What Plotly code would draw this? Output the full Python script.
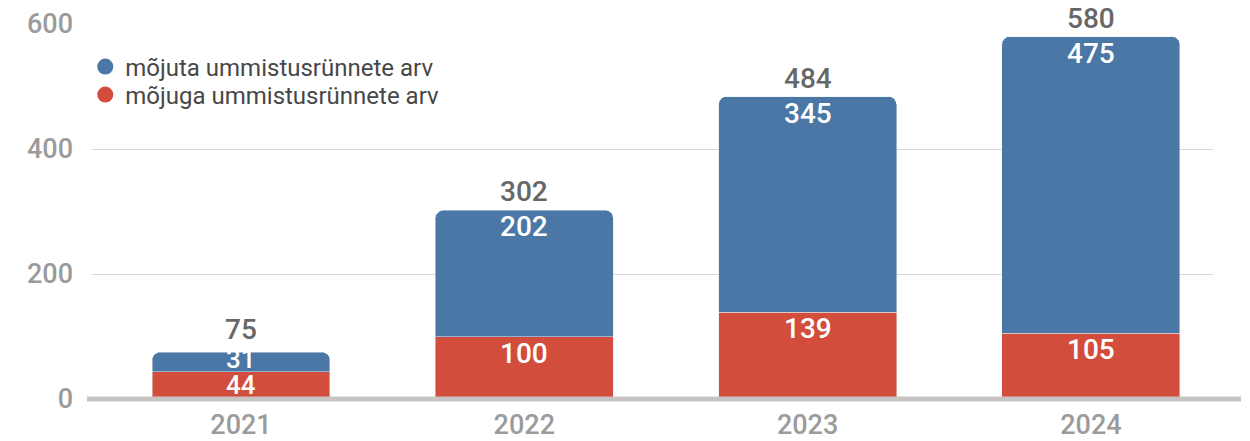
import plotly.graph_objects as go

years = ["2021", "2022", "2023", "2024"]
mojuga = [44, 100, 139, 105]
mojuta = [31, 202, 345, 475]
totals = [75, 302, 484, 580]
name_mojuta = "mõjuta ummistusrünnete arv"
name_mojuga = "mõjuga ummistusrünnete arv"

BLUE = "#4A77A5"
RED = "#D24D3B"
FONT = "Roboto"
LBL = 28
LBL_SMALL = 26

L, R, T, B = 92, 37, 24, 42
W, H = 1250, 441
plot_w = W - L - R
plot_h = H - T - B
YMAX = 600
px_per_unit = plot_h / YMAX

fig = go.Figure()
fig.add_trace(go.Bar(x=years, y=mojuga, name=name_mojuga, marker_color=RED,
                     showlegend=False, width=0.628, hoverinfo="skip"))
fig.add_trace(go.Bar(x=years, y=mojuta, name=name_mojuta, marker_color=BLUE,
                     showlegend=False, width=0.628, hoverinfo="skip"))
# legend-only entries with circle markers (two legends for tight spacing)
fig.add_trace(go.Scatter(x=[None], y=[None], mode="markers", name=name_mojuta,
                         marker=dict(color=BLUE, size=18, symbol="circle"),
                         legend="legend"))
fig.add_trace(go.Scatter(x=[None], y=[None], mode="markers", name=name_mojuga,
                         marker=dict(color=RED, size=18, symbol="circle"),
                         legend="legend2"))

# segment value labels (white, near the top of each segment; centred if short)
IN_GAP = 26
TOP_GAP = 30
for i in range(len(years)):
    base = 0
    prev_center_px = None  # pixel height above baseline of previous label centre
    for v in (mojuga[i], mojuta[i]):
        seg_px = v * px_per_unit
        base_px = base * px_per_unit
        short = seg_px < 40
        if short:
            center_px = base_px + seg_px / 2
        else:
            center_px = base_px + seg_px - 16
        if prev_center_px is not None and center_px - prev_center_px < IN_GAP:
            center_px = prev_center_px + IN_GAP
        shift = center_px - (base + v) * px_per_unit
        fig.add_annotation(x=i, y=base + v, text=str(v), showarrow=False,
                           yanchor="middle", yshift=shift, height=24,
                           font=dict(family=FONT, size=LBL_SMALL if short else LBL,
                                     color="white", weight=500))
        prev_center_px = center_px
        base += v

    # total above the stack, kept clear of the top segment label
    t = totals[i]
    top_px = t * px_per_unit
    total_center = max(top_px + 19, prev_center_px + TOP_GAP)
    fig.add_annotation(x=i, y=t, text=str(t), showarrow=False, yanchor="middle",
                       yshift=total_center - top_px, bgcolor="white", borderpad=0,
                       height=28,
                       font=dict(family=FONT, size=LBL, color="#676767", weight=500))

# thick baseline
fig.add_shape(type="line", xref="paper", yref="paper",
              x0=(87 - L) / plot_w, x1=(1241 - L) / plot_w, y0=0, y1=0,
              line=dict(color="#c8c4c4", width=5), layer="above")

leg_font = dict(family=FONT, size=24, color="#474747")
fig.update_layout(
    width=W, height=H,
    margin=dict(l=L, r=R, t=T, b=B),
    paper_bgcolor="white", plot_bgcolor="white",
    barmode="stack", barcornerradius=8,
    font=dict(family=FONT),
    legend=dict(x=-0.006, y=1 - (67 - T) / plot_h, xanchor="left", yanchor="middle",
                font=leg_font, bgcolor="rgba(0,0,0,0)", itemwidth=30),
    legend2=dict(x=-0.006, y=1 - (95 - T) / plot_h, xanchor="left", yanchor="middle",
                 font=leg_font, bgcolor="rgba(0,0,0,0)", itemwidth=30),
    showlegend=True,
    hovermode=False,
)
fig.update_xaxes(
    type="category", range=[-0.526, 3.431], showgrid=False, showline=False,
    ticks="", automargin=False, ticklabelstandoff=7,
    tickfont=dict(family=FONT, size=27, color="#9b9b9b", weight=500),
)
fig.update_yaxes(
    range=[0, YMAX], tickvals=[0, 200, 400, 600], showgrid=True,
    gridcolor="#d6d6d6", gridwidth=1, zeroline=False,
    ticks="", ticklabelstandoff=18, automargin=False,
    tickfont=dict(family=FONT, size=27, color="#9b9b9b", weight=500),
)

fig.write_html("out.html", config={"displayModeBar": False},
               post_script="document.body.style.margin='0px';")
